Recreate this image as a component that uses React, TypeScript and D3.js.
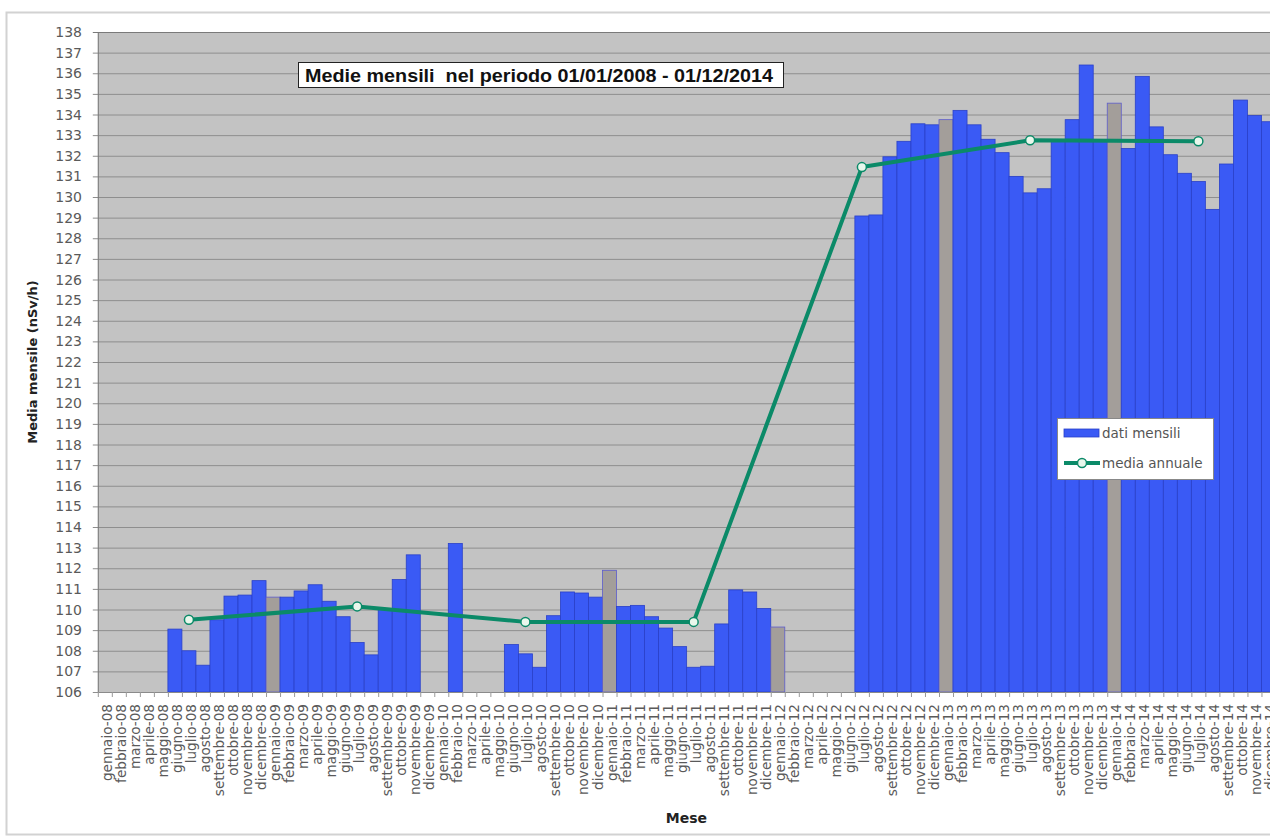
import { useEffect, useRef } from "react";
import * as d3 from "d3";

const MONTHS = ["gennaio", "febbraio", "marzo", "aprile", "maggio", "giugno", "luglio", "agosto", "settembre", "ottobre", "novembre", "dicembre"];
const YEARS = ["08", "09", "10", "11", "12", "13", "14"];
const CATEGORIES = YEARS.flatMap((yy) => MONTHS.map((m) => `${m}-${yy}`));

// monthly means (nSv/h), null = no data
const MONTHLY_2008 = [null, null, null, null, null, 109.05, 108.0, 107.3, 109.5, 110.65, 110.7, 111.4];
const MONTHLY_2009 = [110.6, 110.6, 110.9, 111.2, 110.4, 109.65, 108.4, 107.8, 110.05, 111.45, 112.65, null];
const MONTHLY_2010 = [null, 113.2, null, null, null, 108.3, 107.85, 107.2, 109.7, 110.85, 110.8, 110.6];
const MONTHLY_2011 = [111.9, 110.15, 110.2, 109.65, 109.1, 108.2, 107.2, 107.25, 109.3, 110.95, 110.85, 110.05];
const MONTHLY_2012 = [109.15, null, null, null, null, null, 129.08, 129.13, 131.95, 132.7, 133.55, 133.5];
const MONTHLY_2013 = [133.75, 134.2, 133.5, 132.8, 132.15, 131.0, 130.2, 130.4, 132.75, 133.75, 136.4, 132.7];
const MONTHLY_2014 = [134.55, 132.35, 135.85, 133.4, 132.05, 131.15, 130.75, 129.4, 131.6, 134.7, 133.95, 133.65];
const MONTHLY: (number | null)[] = [
  ...MONTHLY_2008, ...MONTHLY_2009, ...MONTHLY_2010, ...MONTHLY_2011,
  ...MONTHLY_2012, ...MONTHLY_2013, ...MONTHLY_2014,
];

// annual mean, plotted at July of each year
const ANNUAL_AT = ["luglio-08", "luglio-09", "luglio-10", "luglio-11", "luglio-12", "luglio-13", "luglio-14"];
const ANNUAL = [109.5, 110.15, 109.4, 109.4, 131.45, 132.75, 132.7];

const Y_TICKS = d3.range(106, 139, 1);

const BLUE = "#3a5af5";
const GREY_BAR = "#a39e9a";
const GREEN = "#0b8a68";
const AXIS_FONT = "'DejaVu Sans', Verdana, sans-serif";
const TITLE_FONT = "'Liberation Sans', Arial, sans-serif";

function Chart() {
  const ref = useRef<SVGSVGElement>(null);
  useEffect(() => {
    const el = ref.current;
    if (!el) return;
    const W = 1270, H = 838;
    const svg = d3.select(el).attr("width", W).attr("height", H);
    svg.selectAll("*").remove();

    const M = { left: 97.8, top: 32, bottom: 692 };
    const plotRight = M.left + CATEGORIES.length * 14.02;
    const x = d3.scaleBand<string>().domain(CATEGORIES).range([M.left, plotRight]).padding(0);
    const y = d3.scaleLinear().domain([106, 138]).range([M.bottom, M.top]);

    // outer frame
    svg.append("rect").attr("x", 0).attr("y", 0).attr("width", W).attr("height", H).attr("fill", "#fff");
    svg.append("rect").attr("x", 6.5).attr("y", 12.5).attr("width", 1300).attr("height", 822)
      .attr("fill", "#fff").attr("stroke", "#d2d2d2").attr("stroke-width", 2);

    // plot background + grid
    svg.append("rect").attr("x", M.left).attr("y", M.top).attr("width", plotRight - M.left).attr("height", M.bottom - M.top)
      .attr("fill", "#c3c3c3");
    Y_TICKS.forEach((t) => {
      svg.append("line").attr("x1", M.left - 5).attr("x2", plotRight).attr("y1", y(t) + 0.5).attr("y2", y(t) + 0.5)
        .attr("stroke", t === 138 ? "#7a7a7a" : "#8e8e8e").attr("stroke-width", 1);
      svg.append("text").attr("x", 82).attr("y", y(t) + 5).attr("text-anchor", "end")
        .attr("fill", "#5a5a5a").attr("font-size", 14).attr("font-family", AXIS_FONT).text(t);
    });

    // bars
    const bars = CATEGORIES.map((c, i) => ({ c, v: MONTHLY[i], jan: c.startsWith("gennaio") }))
      .filter((d) => d.v != null) as { c: string; v: number; jan: boolean }[];
    svg.append("g").selectAll("rect").data(bars).join("rect")
      .attr("x", (d) => x(d.c) ?? 0).attr("width", x.bandwidth())
      .attr("y", (d) => y(d.v)).attr("height", (d) => y(106) - y(d.v))
      .attr("fill", (d) => (d.jan ? GREY_BAR : BLUE))
      .attr("stroke", (d) => (d.jan ? "#5d5ccc" : "#2a40c8")).attr("stroke-width", 0.8);

    // axes lines
    svg.append("line").attr("x1", M.left + 0.5).attr("x2", M.left + 0.5).attr("y1", M.top).attr("y2", M.bottom)
      .attr("stroke", "#7a7a7a");
    svg.append("line").attr("x1", M.left).attr("x2", plotRight).attr("y1", M.bottom + 0.5).attr("y2", M.bottom + 0.5)
      .attr("stroke", "#8a8a8a");
    CATEGORIES.forEach((c) => {
      const bx = (x(c) ?? 0) + 0.5;
      svg.append("line").attr("x1", bx).attr("x2", bx).attr("y1", M.bottom).attr("y2", M.bottom + 5).attr("stroke", "#999");
      const cx = (x(c) ?? 0) + x.bandwidth() / 2;
      svg.append("text").attr("transform", `translate(${cx + 7},${704}) rotate(-90)`)
        .attr("text-anchor", "end").attr("fill", "#5a5a5a").attr("font-size", 13.6).attr("font-family", AXIS_FONT)
        .text(c);
    });

    // annual mean line
    const pts = ANNUAL.map((v, i) => [(x(ANNUAL_AT[i]) ?? 0) + x.bandwidth() / 2, y(v)] as [number, number]);
    svg.append("path").attr("d", d3.line()(pts)).attr("fill", "none").attr("stroke", GREEN).attr("stroke-width", 4)
      .attr("stroke-linejoin", "round");
    pts.forEach((p) => {
      svg.append("circle").attr("cx", p[0]).attr("cy", p[1]).attr("r", 4.5)
        .attr("fill", "#e9f7ec").attr("stroke", GREEN).attr("stroke-width", 1.5);
    });

    // title box
    svg.append("rect").attr("x", 298.5).attr("y", 62.5).attr("width", 485).attr("height", 25)
      .attr("fill", "#fff").attr("stroke", "#222").attr("stroke-width", 1);
    svg.append("text").attr("x", 305).attr("y", 82).attr("font-size", 19).attr("font-weight", "bold")
      .attr("font-family", TITLE_FONT).attr("fill", "#111").attr("textLength", 468).attr("lengthAdjust", "spacingAndGlyphs")
      .style("white-space", "pre")
      .text("Medie mensili  nel periodo 01/01/2008 - 01/12/2014");

    // axis titles
    svg.append("text").attr("x", (M.left + 1275) / 2).attr("y", 823).attr("text-anchor", "middle")
      .attr("font-size", 14).attr("font-weight", "bold").attr("font-family", AXIS_FONT).attr("fill", "#222").text("Mese");
    svg.append("text").attr("transform", `translate(37,${(M.top + M.bottom) / 2}) rotate(-90)`).attr("text-anchor", "middle")
      .attr("font-size", 13).attr("font-weight", "bold").attr("font-family", AXIS_FONT).attr("fill", "#222")
      .text("Media mensile (nSv/h)");

    // legend
    const lg = svg.append("g");
    lg.append("rect").attr("x", 1057.5).attr("y", 418.5).attr("width", 156).attr("height", 61)
      .attr("fill", "#fff").attr("stroke", "#888").attr("stroke-width", 1);
    lg.append("rect").attr("x", 1064).attr("y", 429).attr("width", 35).attr("height", 8)
      .attr("fill", BLUE).attr("stroke", "#2a40c8").attr("stroke-width", 0.8);
    lg.append("text").attr("x", 1102).attr("y", 438).attr("font-size", 13.5).attr("font-family", AXIS_FONT)
      .attr("fill", "#555").text("dati mensili");
    lg.append("line").attr("x1", 1064).attr("x2", 1100).attr("y1", 463).attr("y2", 463).attr("stroke", GREEN).attr("stroke-width", 4);
    lg.append("circle").attr("cx", 1082).attr("cy", 463).attr("r", 4.5).attr("fill", "#e9f7ec").attr("stroke", GREEN).attr("stroke-width", 1.5);
    lg.append("text").attr("x", 1102).attr("y", 468).attr("font-size", 13.5).attr("font-family", AXIS_FONT)
      .attr("fill", "#555").text("media annuale");
  }, []);
  return <svg ref={ref} role="img" aria-label="Medie mensili" style={{ display: "block" }} />;
}

export default function App() {
  return (
    <div style={{ position: "fixed", left: 0, top: 0, width: 1270, height: 838, overflow: "hidden", background: "#fff" }}>
      <Chart />
    </div>
  );
}
